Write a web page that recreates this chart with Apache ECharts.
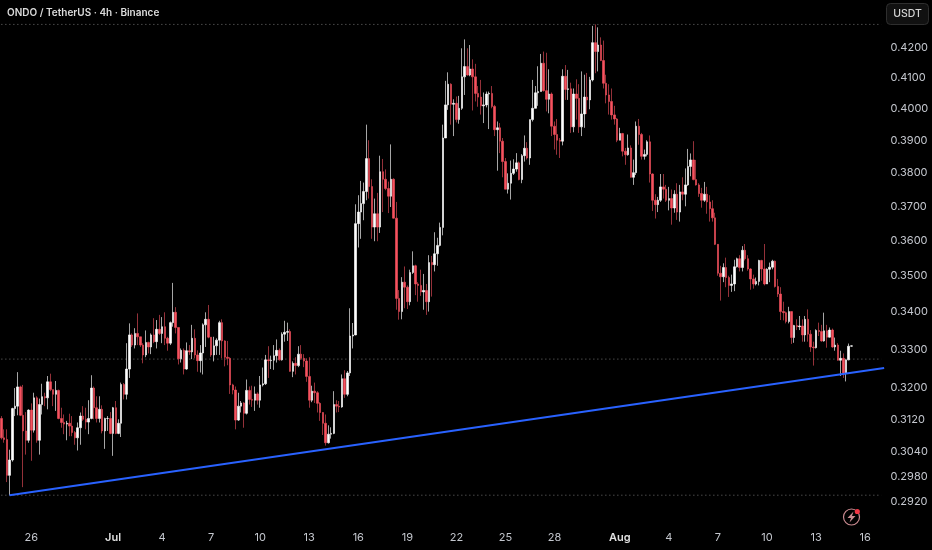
<!DOCTYPE html>
<html><head><meta charset="utf-8">
<style>html,body{margin:0;padding:0;background:#000}#c{width:932px;height:550px}</style>
<script src="https://cdn.jsdelivr.net/npm/echarts@6/dist/echarts.min.js"></script>
</head><body><div id="c"></div>
<script>
const opens=[
.3122,.3074,.3070,.2983,.3020,.3147,.3153,.3202,.3130,.3091,
.3068,.3143,.3093,.3174,.3068,.3157,.3177,.3174,.3215,.3195,
.3183,.3193,.3122,.3112,.3108,.3110,.3103,.3087,.3074,.3099,
.3128,.3120,.3113,.3122,.3199,.3149,.3122,.3145,.3091,.3122,
.3122,.3085,.3149,.3085,.3110,.3208,.3183,.3248,.3338,.3311,
.3342,.3333,.3311,.3285,.3318,.3306,.3338,.3320,.3353,.3342,
.3360,.3329,.3316,.3371,.3399,.3358,.3275,.3297,.3248,.3296,
.3293,.3329,.3285,.3270,.3290,.3365,.3380,.3332,.3285,.3309,
.3324,.3371,.3322,.3279,.3276,.3207,.3194,.3118,.3153,.3161,
.3135,.3193,.3170,.3168,.3184,.3168,.3207,.3210,.3272,.3270,
.3271,.3283,.3297,.3272,.3340,.3345,.3347,.3242,.3263,.3257,
.3287,.3276,.3269,.3229,.3168,.3191,.3187,.3160,.3137,.3110,
.3062,.3083,.3085,.3157,.3153,.3151,.3223,.3183,.3238,.3335,
.3338,.3649,.3683,.3708,.3744,.3844,.3759,.3639,.3678,.3639,
.3804,.3781,.3753,.3730,.3781,.3665,.3437,.3401,.3482,.3468,
.3428,.3509,.3528,.3477,.3473,.3455,.3459,.3428,.3537,.3531,
.3562,.3586,.3638,.3908,.4013,.4080,.4015,.4018,.3966,.4002,
.4104,.4138,.4110,.4130,.4104,.4050,.4038,.4010,.4013,.4048,
.4050,.4008,.3934,.3940,.3898,.3835,.3751,.3769,.3799,.3812,
.3831,.3780,.3853,.3876,.3846,.3966,.4002,.4052,.4056,.4149,
.4059,.4031,.4048,.3945,.3919,.3901,.3898,.4106,.4063,.4065,
.3943,.4048,.4034,.3943,.3984,.4038,.4029,.4094,.4218,.4188,
.4210,.4158,.4083,.4045,.4024,.3981,.3968,.3901,.3922,.3867,
.3856,.3877,.3787,.3801,.3945,.3919,.3851,.3857,.3896,.3797,
.3718,.3705,.3718,.3758,.3751,.3718,.3723,.3695,.3736,.3683,
.3743,.3736,.3764,.3820,.3840,.3780,.3764,.3738,.3718,.3736,
.3713,.3693,.3666,.3589,.3507,.3497,.3523,.3495,.3473,.3477,
.3525,.3548,.3523,.3572,.3548,.3519,.3491,.3477,.3484,.3543,
.3519,.3477,.3518,.3524,.3541,.3470,.3449,.3401,.3398,.3374,
.3401,.3331,.3363,.3360,.3362,.3338,.3380,.3340,.3306,.3304,
.3350,.3347,.3322,.3349,.3332,.3351,.3306,.3311,.3271,.3276,
.3238,.3272,.3308];
const closes=[
.3074,.3070,.2983,.3020,.3147,.3153,.3202,.3130,.3091,.3068,
.3143,.3093,.3174,.3068,.3157,.3177,.3174,.3215,.3195,.3183,
.3193,.3122,.3112,.3108,.3110,.3103,.3087,.3074,.3099,.3128,
.3120,.3113,.3122,.3199,.3149,.3122,.3145,.3091,.3122,.3122,
.3085,.3149,.3085,.3110,.3208,.3183,.3248,.3338,.3311,.3342,
.3333,.3311,.3285,.3318,.3306,.3338,.3320,.3353,.3342,.3360,
.3329,.3316,.3371,.3399,.3358,.3275,.3297,.3248,.3296,.3293,
.3329,.3285,.3270,.3290,.3365,.3380,.3332,.3285,.3309,.3324,
.3371,.3322,.3279,.3276,.3207,.3194,.3118,.3153,.3161,.3135,
.3193,.3170,.3168,.3184,.3168,.3207,.3210,.3272,.3270,.3271,
.3283,.3297,.3272,.3340,.3345,.3347,.3242,.3263,.3257,.3287,
.3276,.3269,.3229,.3168,.3191,.3187,.3160,.3137,.3110,.3062,
.3083,.3085,.3157,.3153,.3151,.3223,.3183,.3238,.3335,.3338,
.3649,.3683,.3708,.3744,.3844,.3759,.3639,.3678,.3639,.3804,
.3781,.3753,.3730,.3781,.3665,.3437,.3401,.3482,.3468,.3428,
.3509,.3528,.3477,.3473,.3455,.3459,.3428,.3537,.3531,.3562,
.3586,.3638,.3908,.4013,.4080,.4015,.4018,.3966,.4002,.4104,
.4138,.4110,.4130,.4104,.4050,.4038,.4010,.4013,.4048,.4050,
.4008,.3934,.3940,.3898,.3835,.3751,.3769,.3799,.3812,.3831,
.3780,.3853,.3876,.3846,.3966,.4002,.4052,.4056,.4149,.4059,
.4031,.4048,.3945,.3919,.3901,.3898,.4106,.4063,.4065,.3943,
.4048,.4034,.3943,.3984,.4038,.4029,.4094,.4218,.4188,.4210,
.4158,.4083,.4045,.4024,.3981,.3968,.3901,.3922,.3867,.3856,
.3877,.3787,.3801,.3945,.3919,.3851,.3857,.3896,.3797,.3718,
.3705,.3718,.3758,.3751,.3718,.3723,.3695,.3736,.3683,.3743,
.3736,.3764,.3820,.3840,.3780,.3764,.3738,.3718,.3736,.3713,
.3693,.3666,.3589,.3507,.3497,.3523,.3495,.3473,.3477,.3525,
.3548,.3523,.3572,.3548,.3519,.3491,.3477,.3484,.3543,.3519,
.3477,.3518,.3524,.3541,.3470,.3449,.3401,.3398,.3374,.3401,
.3331,.3363,.3360,.3362,.3338,.3380,.3340,.3306,.3304,.3350,
.3347,.3322,.3349,.3332,.3351,.3306,.3311,.3271,.3276,.3238,
.3272,.3308,.3309];
const highs=[
.3128,.3095,.3095,.3045,.3149,.3199,.3240,.3205,.3207,.3138,
.3145,.3160,.3187,.3178,.3172,.3210,.3187,.3230,.3236,.3195,
.3217,.3195,.3149,.3132,.3116,.3134,.3128,.3091,.3112,.3137,
.3153,.3149,.3168,.3232,.3203,.3178,.3178,.3155,.3124,.3128,
.3138,.3151,.3166,.3120,.3213,.3212,.3316,.3369,.3342,.3356,
.3396,.3333,.3316,.3350,.3320,.3342,.3383,.3378,.3392,.3386,
.3399,.3333,.3374,.3480,.3413,.3358,.3302,.3302,.3318,.3311,
.3365,.3353,.3297,.3311,.3369,.3399,.3419,.3332,.3333,.3329,
.3376,.3380,.3324,.3322,.3279,.3210,.3203,.3187,.3166,.3163,
.3221,.3203,.3205,.3203,.3188,.3230,.3252,.3285,.3308,.3283,
.3311,.3326,.3302,.3345,.3376,.3371,.3353,.3268,.3279,.3308,
.3311,.3287,.3276,.3279,.3205,.3213,.3191,.3163,.3138,.3132,
.3105,.3100,.3191,.3168,.3166,.3234,.3245,.3243,.3410,.3370,
.3706,.3733,.3776,.3771,.3950,.3901,.3781,.3723,.3740,.3853,
.3843,.3811,.3774,.3888,.3784,.3713,.3460,.3496,.3526,.3473,
.3517,.3569,.3531,.3482,.3517,.3505,.3477,.3558,.3556,.3624,
.3608,.3652,.3950,.4091,.4119,.4083,.4031,.4040,.4042,.4199,
.4229,.4199,.4210,.4162,.4147,.4074,.4094,.4053,.4056,.4056,
.4074,.4013,.3960,.3955,.3908,.3846,.3799,.3838,.3842,.3861,
.3835,.3858,.3916,.3895,.3966,.4094,.4074,.4139,.4180,.4188,
.4184,.4129,.4053,.3960,.3968,.3908,.4129,.4143,.4127,.4085,
.4066,.4096,.4080,.4122,.4111,.4117,.4104,.4275,.4280,.4270,
.4236,.4225,.4111,.4080,.4066,.4010,.3971,.3940,.3924,.3877,
.3919,.3885,.3841,.3960,.3968,.3924,.3872,.3901,.3916,.3799,
.3736,.3728,.3797,.3797,.3764,.3758,.3750,.3748,.3769,.3764,
.3787,.3814,.3874,.3860,.3898,.3840,.3769,.3755,.3773,.3758,
.3733,.3718,.3681,.3590,.3528,.3535,.3551,.3500,.3503,.3545,
.3551,.3558,.3584,.3590,.3558,.3521,.3503,.3495,.3545,.3545,
.3590,.3521,.3537,.3545,.3543,.3491,.3468,.3428,.3401,.3414,
.3401,.3365,.3380,.3389,.3380,.3389,.3407,.3351,.3320,.3353,
.3371,.3365,.3398,.3365,.3358,.3355,.3331,.3316,.3296,.3289,
.3273,.3315,.3310];
const lows=[
.3070,.3062,.2967,.2936,.3016,.3128,.3130,.3128,.2955,.3033,
.3062,.3018,.3087,.3062,.3033,.3132,.3153,.3145,.3191,.3153,
.3141,.3120,.3099,.3083,.3068,.3078,.3078,.3057,.3043,.3057,
.3116,.3095,.3083,.3120,.3120,.3112,.3112,.3085,.3047,.3091,
.3083,.3030,.3083,.3083,.3076,.3170,.3170,.3225,.3306,.3302,
.3311,.3306,.3263,.3279,.3289,.3287,.3316,.3302,.3338,.3316,
.3311,.3296,.3311,.3360,.3342,.3260,.3265,.3234,.3246,.3285,
.3274,.3276,.3241,.3239,.3234,.3306,.3329,.3280,.3268,.3285,
.3285,.3276,.3255,.3258,.3184,.3183,.3095,.3116,.3137,.3099,
.3132,.3157,.3151,.3141,.3157,.3149,.3203,.3207,.3225,.3248,
.3246,.3265,.3270,.3270,.3320,.3322,.3241,.3227,.3234,.3253,
.3272,.3253,.3215,.3149,.3163,.3161,.3137,.3116,.3081,.3055,
.3060,.3072,.3083,.3137,.3138,.3149,.3174,.3178,.3230,.3302,
.3337,.3580,.3605,.3659,.3718,.3723,.3605,.3598,.3598,.3622,
.3683,.3748,.3680,.3698,.3664,.3406,.3379,.3380,.3410,.3408,
.3418,.3505,.3446,.3428,.3444,.3406,.3392,.3401,.3442,.3512,
.3528,.3583,.3615,.3908,.3997,.3950,.3914,.3957,.3953,.3997,
.4045,.4108,.4106,.3995,.4024,.4007,.3982,.3955,.4005,.3936,
.4002,.3914,.3807,.3861,.3787,.3751,.3738,.3720,.3794,.3804,
.3778,.3769,.3835,.3841,.3825,.3960,.4002,.4010,.4056,.4056,
.3992,.3986,.3914,.3872,.3856,.3846,.3885,.4029,.4029,.3924,
.3926,.3966,.3924,.3914,.3940,.3984,.3999,.4089,.4116,.4122,
.4156,.4066,.4018,.3982,.3966,.3950,.3895,.3901,.3851,.3825,
.3853,.3786,.3764,.3794,.3887,.3841,.3841,.3851,.3771,.3686,
.3664,.3683,.3713,.3723,.3713,.3688,.3646,.3681,.3660,.3655,
.3718,.3700,.3761,.3790,.3778,.3762,.3728,.3696,.3713,.3678,
.3655,.3655,.3587,.3500,.3431,.3482,.3468,.3441,.3455,.3457,
.3523,.3512,.3512,.3543,.3514,.3461,.3464,.3473,.3473,.3486,
.3473,.3477,.3482,.3518,.3467,.3441,.3378,.3377,.3369,.3369,
.3314,.3317,.3351,.3351,.3320,.3320,.3320,.3293,.3257,.3302,
.3335,.3320,.3320,.3304,.3331,.3304,.3296,.3270,.3230,.3225,
.3216,.3271,.3307];
const priceTicks=[0.42,0.41,0.40,0.39,0.38,0.37,0.36,0.35,0.34,0.33,0.32,0.312,0.304,0.298,0.292];
const dateTicks={11:'26',41:'Jul',59:'4',77:'7',95:'10',113:'13',131:'16',149:'19',167:'22',185:'25',203:'28',227:'Aug',245:'4',263:'7',281:'10',299:'13',317:'16'};
const trendStart=[3,0.2936], trendEnd=[324,0.3251];
const levels=[0.4280,0.3274,0.2936];

const slotCount=325;
const slots=[];
for(let i=0;i<slotCount;i++){slots.push(new Date(Date.UTC(2025,5,24,4+4*i)).toISOString().slice(0,16));}
const candleData=opens.map((o,i)=>[o,closes[i],lows[i],highs[i]]);
const levelSeries=levels.map(v=>({type:'line',data:[[0,v],[slotCount-2,v]],symbol:'none',silent:true,z:1,
  lineStyle:{color:'#6e6e6e',width:1,type:[1,3]}}));

const chart=echarts.init(document.getElementById('c'),null,{renderer:'canvas'});
chart.setOption({
  animation:false,backgroundColor:'#000',
  title:{text:'ONDO / TetherUS · 4h · Binance',left:2,top:3,textStyle:{color:'#dcdcdc',fontSize:10,fontWeight:600,fontFamily:'Inter'}},
  grid:{left:-1.38,top:0,width:886.9,height:522,containLabel:false},
  xAxis:{type:'category',data:slots,boundaryGap:true,axisLine:{show:false},axisTick:{show:false},splitLine:{show:false},
    axisLabel:{customValues:Object.keys(dateTicks).map(Number),hideOverlap:false,margin:10,color:'#c4c7ce',fontSize:11,fontFamily:'Inter',
      formatter:(v,i)=>{const k=slots.indexOf(v);const t=dateTicks[k]||'';return (t==='Jul'||t==='Aug')?'{b|'+t+'}':t;},
      rich:{b:{color:'#e0e0e0',fontSize:11,fontWeight:600,fontFamily:'Inter'}}}},
  yAxis:{type:'log',logBase:10,position:'right',min:0.28737,max:0.43645,axisLine:{show:false},axisTick:{show:false},splitLine:{show:false},minorTick:{show:false},minorSplitLine:{show:false},
    axisLabel:{customValues:priceTicks,margin:5,padding:[2,0,0,0],color:'#c4c7ce',fontSize:11,fontFamily:'Inter',formatter:(v)=>Number(v).toFixed(4)}},
  series:[
    ...levelSeries,
    {type:'candlestick',data:candleData,barWidth:2,z:2,clip:true,silent:true,
     itemStyle:{color:'#ffffff',color0:'#f7525f',borderColor:'rgba(255,255,255,0.65)',borderColor0:'rgba(247,82,95,0.6)',borderWidth:1}},
    {type:'line',data:[trendStart,trendEnd],symbol:'none',silent:true,z:3,lineStyle:{color:'#2962ff',width:2}}
  ],
  graphic:[
    {type:'rect',shape:{x:886.5,y:3.5,width:42,height:21,r:4},style:{fill:'#111',stroke:'#2e2e2e',lineWidth:1},z:10},
    {type:'text',style:{x:907.5,y:14,text:'USDT',fill:'#d5d5d5',fontSize:10.5,fontWeight:500,fontFamily:'Inter',align:'center',verticalAlign:'middle'},z:11},
    {type:'circle',shape:{cx:851.5,cy:517,r:8},style:{fill:'#000',stroke:'#c98a90',lineWidth:1.2},z:10},
    {type:'polygon',shape:{points:[[853.5,511.5],[847.5,518],[851,518],[849.5,522.5],[855.5,516],[852,516]]},style:{fill:'#c98a90'},z:11},
    {type:'circle',shape:{cx:857.3,cy:511.5,r:2.6},style:{fill:'#f23645'},z:12}
  ]
});
</script></body></html>
